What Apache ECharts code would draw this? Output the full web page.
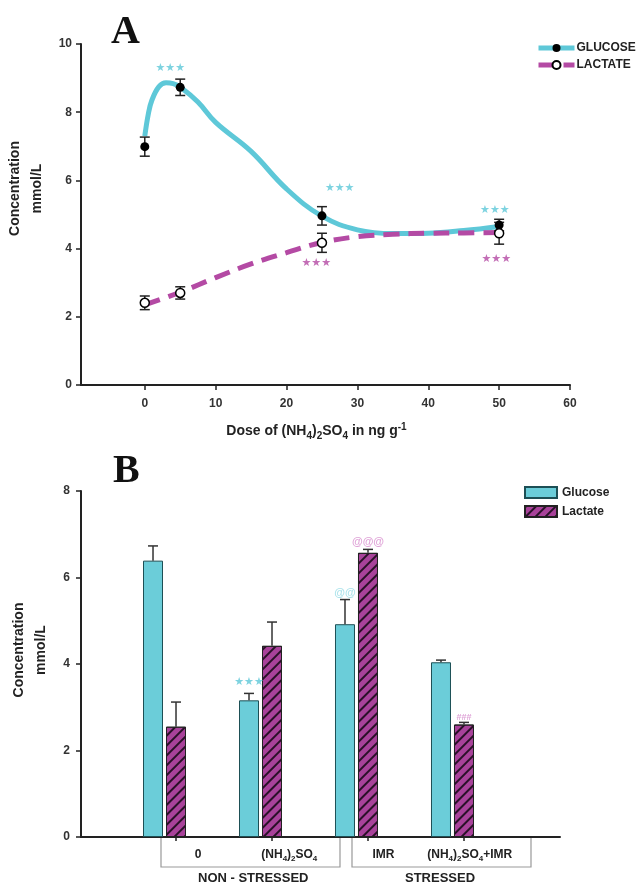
<!DOCTYPE html>
<html>
<head>
<meta charset="utf-8">
<script src="https://cdn.jsdelivr.net/npm/echarts@6.0.0/dist/echarts.min.js"></script>
<style>
  html, body { margin: 0; padding: 0; background: #fff; }
  #main { width: 639px; height: 887px; }
</style>
</head>
<body>
<div id="main"></div>
<script>
// ---- panel A : dose response ----
let doses = [0, 5, 25, 50];
let glucoseMean = [6.99, 8.73, 4.96, 4.69];
let glucoseSem = [0.28, 0.24, 0.27, 0.17];
let lactateMean = [2.41, 2.70, 4.17, 4.45];
let lactateSem = [0.2, 0.18, 0.28, 0.32];

// fitted curves
let glucoseFitX = [0, 0.5, 1, 2, 3, 4, 5, 7.5, 10, 15, 20, 25, 30, 35, 40, 45, 50];
let glucoseFitY = [7.3, 7.95, 8.35, 8.75, 8.86, 8.84, 8.74, 8.3, 7.7, 6.85, 5.75, 4.95, 4.55, 4.44, 4.45, 4.53, 4.65];
let lactateFitX = [0, 5, 10, 15, 20, 25, 30, 35, 40, 45, 50];
let lactateFitY = [2.35, 2.72, 3.15, 3.55, 3.88, 4.18, 4.35, 4.42, 4.45, 4.46, 4.47];

// significance marks panel A
let starsGlucoseA = [[3.6, 9.3], [27.5, 5.78], [49.4, 5.13]];
let starsLactateA = [[24.2, 3.58], [49.6, 3.69]];

// ---- panel B : bars ----
let groupLabels = ['0', '(NH4)2SO4', 'IMR', '(NH4)2SO4+IMR'];
let glucoseBar = [6.39, 3.16, 4.92, 4.04];
let glucoseBarErr = [0.34, 0.16, 0.57, 0.05];
let lactateBar = [2.55, 4.42, 6.57, 2.6];
let lactateBarErr = [0.57, 0.55, 0.08, 0.05];
let marksB = [
  { i: 1, y: 3.58, text: '★★★', side: 'g' },
  { i: 2, y: 5.64, text: '@@', side: 'g' },
  { i: 2, y: 6.82, text: '@@@', side: 'l' },
  { i: 3, y: 2.77, text: '###', side: 'l' }
];

const CYAN = '#5ec8d8';
const CYAN_BAR = '#6bcdd9';
const MAGENTA = '#b44aa4';
const MAGENTA_BAR = '#a8429a';
const FONT = '"Liberation Sans", Arial, sans-serif';

let chartDom = document.getElementById('main');
let myChart = echarts.init(chartDom);

function pairs(xs, ys) {
  return xs.map((x, i) => [x, ys[i]]);
}

function errRender(cap) {
  return function (params, api) {
    let x = api.value(0);
    let lo = api.value(1);
    let hi = api.value(2);
    let p1 = api.coord([x, lo]);
    let p2 = api.coord([x, hi]);
    let st = { stroke: '#222', lineWidth: 1.5 };
    return {
      type: 'group',
      children: [
        { type: 'line', shape: { x1: p1[0], y1: p1[1], x2: p2[0], y2: p2[1] }, style: st },
        { type: 'line', shape: { x1: p1[0] - cap, y1: p1[1], x2: p1[0] + cap, y2: p1[1] }, style: st },
        { type: 'line', shape: { x1: p2[0] - cap, y1: p2[1], x2: p2[0] + cap, y2: p2[1] }, style: st }
      ]
    };
  };
}

function barErrRender(shift) {
  return function (params, api) {
    let x = api.value(0);
    let top = api.value(1);
    let hi = api.value(2);
    let p1 = api.coord([x, top]);
    let p2 = api.coord([x, hi]);
    let st = { stroke: '#333', lineWidth: 1.5 };
    let cx = p1[0] + shift;
    return {
      type: 'group',
      children: [
        { type: 'line', shape: { x1: cx, y1: p1[1], x2: cx, y2: p2[1] }, style: st },
        { type: 'line', shape: { x1: cx - 5, y1: p2[1], x2: cx + 5, y2: p2[1] }, style: st }
      ]
    };
  };
}

// rich text for labels holding the (NH4)2SO4 formula
function chem(s) {
  let out = [];
  s.split('(NH4)2SO4').forEach(function (p, k) {
    if (k > 0) out.push('{b|(NH}{sub|4}{b|)}{sub|2}{b|SO}{sub|4}');
    if (p) out.push('{b|' + p + '}');
  });
  return out.join('');
}

function richSet(size, subSize) {
  return {
    b: { fontFamily: FONT, fontWeight: 'bold', fontSize: size, lineHeight: size + 5, color: '#222' },
    sub: { fontFamily: FONT, fontWeight: 'bold', fontSize: subSize, lineHeight: subSize, verticalAlign: 'bottom', color: '#222' },
    sup: { fontFamily: FONT, fontWeight: 'bold', fontSize: subSize, lineHeight: subSize, verticalAlign: 'top', color: '#222' }
  };
}

let axisCommon = {
  axisLine: { show: true, onZero: false, lineStyle: { color: '#222', width: 2 } },
  axisTick: { show: true, length: 5, lineStyle: { color: '#222', width: 1.5 } },
  splitLine: { show: false },
  axisLabel: { fontFamily: FONT, fontWeight: 'bold', fontSize: 12, color: '#333' }
};

let yNameStyle = { fontFamily: FONT, fontWeight: 'bold', fontSize: 14, color: '#222', lineHeight: 22 };

let option = {
  backgroundColor: '#fff',
  animation: false,
  title: [
    { text: 'A', left: 106, top: 8, textStyle: { fontFamily: '"Liberation Serif", "Times New Roman", serif', fontWeight: 'bold', fontSize: 40, color: '#111' } },
    { text: 'B', left: 108, top: 447, textStyle: { fontFamily: '"Liberation Serif", "Times New Roman", serif', fontWeight: 'bold', fontSize: 40, color: '#111' } }
  ],
  legend: [
    {
      data: ['GLUCOSE', 'LACTATE'],
      orient: 'vertical',
      left: 531, top: 37,
      itemWidth: 36, itemHeight: 10, itemGap: 5,
      lineStyle: { width: 5 },
      textStyle: { fontFamily: FONT, fontWeight: 'bold', fontSize: 12, color: '#222', padding: [0, 0, 0, -3] }
    },
    {
      data: ['Glucose', 'Lactate'],
      orient: 'vertical',
      left: 519, top: 481,
      icon: 'rect',
      itemWidth: 32, itemHeight: 11, itemGap: 6,
      textStyle: { fontFamily: FONT, fontWeight: 'bold', fontSize: 12, color: '#222' }
    }
  ],
  grid: [
    { left: 81, top: 44, width: 489, height: 341, outerBoundsMode: 'none', containLabel: false },
    { left: 81, top: 491, width: 479, height: 346, outerBoundsMode: 'none', containLabel: false }
  ],
  xAxis: [
    Object.assign({}, axisCommon, {
      gridIndex: 0, type: 'value', min: -9, max: 60,
      axisTick: { show: true, length: 5, lineStyle: { color: '#222', width: 1.5 }, customValues: [0, 10, 20, 30, 40, 50, 60] },
      axisLabel: Object.assign({}, axisCommon.axisLabel, { margin: 13, customValues: [0, 10, 20, 30, 40, 50, 60] }),
      name: '{b|Dose of (NH}{sub|4}{b|)}{sub|2}{b|SO}{sub|4}{b| in ng g}{sup|-1}',
      nameLocation: 'middle', nameGap: 37,
      nameTextStyle: { rich: richSet(14, 10), padding: [0, 18, 0, 0] }
    }),
    Object.assign({}, axisCommon, {
      gridIndex: 1, type: 'value', min: -0.87, max: 4.12,
      axisTick: { show: true, length: 4, lineStyle: { color: '#222', width: 1.5 }, customValues: [0.12, 1.12, 2.12, 3.12] },
      axisLabel: Object.assign({}, axisCommon.axisLabel, {
        margin: 9,
        customValues: [0.35, 1.3, 2.28, 3.18],
        formatter: function (v) {
          return chem(groupLabels[Math.round(v - 0.3)]);
        },
        rich: richSet(12, 8)
      })
    })
  ],
  yAxis: [
    Object.assign({}, axisCommon, {
      gridIndex: 0, type: 'value', min: 0, max: 10, interval: 2,
      axisLabel: Object.assign({}, axisCommon.axisLabel, { margin: 9 }),
      name: 'Concentration\nmmol/L', nameLocation: 'middle', nameGap: 28,
      nameTextStyle: Object.assign({}, yNameStyle, { padding: [0, 0, 0, 52] })
    }),
    Object.assign({}, axisCommon, {
      gridIndex: 1, type: 'value', min: 0, max: 8, interval: 2,
      axisLabel: Object.assign({}, axisCommon.axisLabel, { margin: 11 }),
      name: 'Concentration\nmmol/L', nameLocation: 'middle', nameGap: 28,
      nameTextStyle: Object.assign({}, yNameStyle, { padding: [0, 0, 0, 28] })
    })
  ],
  series: [
    // ---- panel A curves ----
    {
      name: 'GLUCOSE', type: 'line', xAxisIndex: 0, yAxisIndex: 0,
      data: pairs(glucoseFitX, glucoseFitY), smooth: 0.4,
      showSymbol: false, symbol: 'circle', symbolSize: 9,
      itemStyle: { color: '#000' },
      lineStyle: { color: CYAN, width: 5 },
      z: 2
    },
    {
      name: 'LACTATE', type: 'line', xAxisIndex: 0, yAxisIndex: 0,
      data: pairs(lactateFitX, lactateFitY), smooth: 0.4,
      showSymbol: false, symbol: 'circle', symbolSize: 9,
      itemStyle: { color: '#fff', borderColor: '#000', borderWidth: 1.5 },
      lineStyle: { color: MAGENTA, width: 5, type: [16, 9] },
      z: 2
    },
    // error bars A
    {
      type: 'custom', xAxisIndex: 0, yAxisIndex: 0,
      renderItem: errRender(5), encode: { x: 0, y: [1, 2] },
      data: doses.map((d, i) => [d, glucoseMean[i] - glucoseSem[i], glucoseMean[i] + glucoseSem[i]]),
      z: 3
    },
    {
      type: 'custom', xAxisIndex: 0, yAxisIndex: 0,
      renderItem: errRender(5), encode: { x: 0, y: [1, 2] },
      data: doses.map((d, i) => [d, lactateMean[i] - lactateSem[i], lactateMean[i] + lactateSem[i]]),
      z: 3
    },
    // points A
    {
      type: 'scatter', xAxisIndex: 0, yAxisIndex: 0,
      data: pairs(doses, glucoseMean), symbol: 'circle', symbolSize: 9,
      itemStyle: { color: '#000', opacity: 1 }, z: 4
    },
    {
      type: 'scatter', xAxisIndex: 0, yAxisIndex: 0,
      data: pairs(doses, lactateMean), symbol: 'circle', symbolSize: 9,
      itemStyle: { color: '#fff', borderColor: '#000', borderWidth: 1.5, opacity: 1 }, z: 4
    },
    // stars A
    {
      type: 'scatter', xAxisIndex: 0, yAxisIndex: 0, symbolSize: 0, silent: true,
      data: starsGlucoseA,
      label: { show: true, position: 'inside', formatter: '★★★', color: CYAN, fontSize: 11, fontFamily: '"DejaVu Sans", sans-serif' },
      z: 5
    },
    {
      type: 'scatter', xAxisIndex: 0, yAxisIndex: 0, symbolSize: 0, silent: true,
      data: starsLactateA,
      label: { show: true, position: 'inside', formatter: '★★★', color: MAGENTA, fontSize: 11, fontFamily: '"DejaVu Sans", sans-serif' },
      z: 5
    },
    // ---- panel B bars ----
    {
      name: 'Glucose', type: 'bar', xAxisIndex: 1, yAxisIndex: 1,
      data: glucoseBar.map((v, i) => [i, v]),
      barWidth: 20, barGap: '15%',
      itemStyle: { color: CYAN_BAR, borderColor: '#1d4f55', borderWidth: 1 }
    },
    {
      name: 'Lactate', type: 'bar', xAxisIndex: 1, yAxisIndex: 1,
      data: lactateBar.map((v, i) => [i, v]),
      barWidth: 20, barGap: '15%',
      itemStyle: {
        color: MAGENTA_BAR, borderColor: '#222', borderWidth: 1,
        decal: { symbol: 'rect', symbolSize: 1, dashArrayX: [1, 0], dashArrayY: [2, 5], rotation: -Math.PI / 4, color: '#2a1028' }
      }
    },
    {
      type: 'custom', xAxisIndex: 1, yAxisIndex: 1,
      renderItem: barErrRender(-11.5), encode: { x: 0, y: [1, 2] },
      data: glucoseBar.map((v, i) => [i, v, v + glucoseBarErr[i]]), z: 3
    },
    {
      type: 'custom', xAxisIndex: 1, yAxisIndex: 1,
      renderItem: barErrRender(11.5), encode: { x: 0, y: [1, 2] },
      data: lactateBar.map((v, i) => [i, v, v + lactateBarErr[i]]), z: 3
    },
    {
      type: 'scatter', xAxisIndex: 1, yAxisIndex: 1, symbolSize: 0, silent: true,
      data: marksB.map(m => ({
        value: [m.i, m.y],
        label: {
          show: true, position: 'inside', formatter: m.text,
          offset: [m.side === 'g' ? -11.5 : 11.5, 0],
          color: m.text === '★★★' ? CYAN : (m.side === 'g' ? '#93dbe5' : '#d78ccd'),
          fontSize: m.text === '###' ? 9 : 11,
          fontWeight: 'bold',
          fontFamily: m.text === '★★★' ? '"DejaVu Sans", sans-serif' : FONT
        }
      })),
      z: 5
    }
  ],
  graphic: [
    { type: 'polyline', shape: { points: [[161, 838], [161, 867], [340, 867], [340, 838]] }, style: { stroke: '#999', lineWidth: 1.2, fill: null } },
    { type: 'polyline', shape: { points: [[352, 838], [352, 867], [531, 867], [531, 838]] }, style: { stroke: '#999', lineWidth: 1.2, fill: null } },
    { type: 'text', left: 198, top: 872, style: { text: 'NON - STRESSED', font: 'bold 13px ' + FONT, fill: '#222' } },
    { type: 'text', left: 405, top: 872, style: { text: 'STRESSED', font: 'bold 13px ' + FONT, fill: '#222' } }
  ]
};

option && myChart.setOption(option);
</script>
</body>
</html>
